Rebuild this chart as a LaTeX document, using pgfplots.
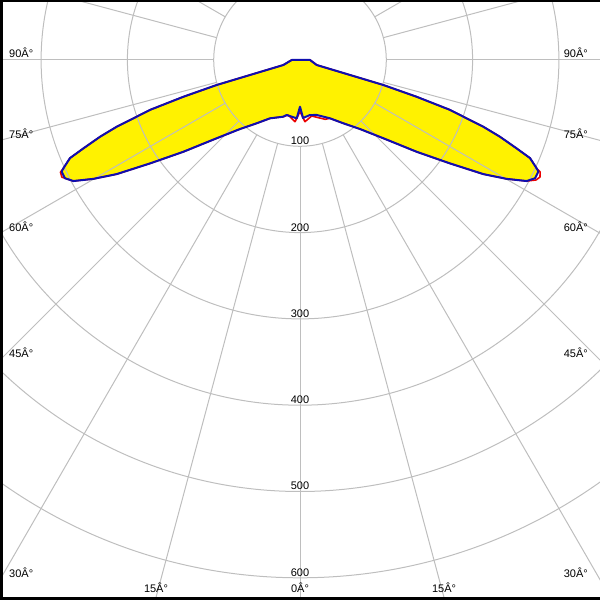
\documentclass[border=0pt]{standalone}
\usepackage{fontspec}
\setmainfont{Liberation Sans}
\usepackage{pgfplots}
\usepackage{pgfplotstable}
\pgfplotsset{compat=1.18}
\definecolor{gridc}{RGB}{190,190,190}
\definecolor{cblue}{RGB}{15,15,175}
\definecolor{cred}{RGB}{235,0,0}
\def\s{0.863}
\tikzset{lab/.style={font=\fontsize{11pt}{13pt}\selectfont, inner sep=0pt, text=black}}

% blue curve: gamma (deg, left negative), intensity (cd), in drawing order
\pgfplotstableread{
g r
0 54.1
3.0 67.3
10.3 64.8
16.9 66.6
27.2 76.0
34.4 88.9
41.0 106.0
46.8 132.5
51.8 172.0
55.4 211.0
58.1 250.3
60.1 276.4
61.9 297.8
63.3 304.9
64.9 305.0
65.4 301.6
66.9 289.8
67.8 271.1
69.0 248.2
70.0 226.0
70.7 204.6
71.6 183.2
72.5 141.7
73.3 100.8
73.3 60.5
73.3 20.2
90 11.6
-90 9.6
-73.3 20.2
-73.3 60.5
-73.3 100.8
-72.5 141.7
-71.6 183.2
-70.7 204.6
-70.0 226.0
-69.0 248.2
-67.8 271.1
-66.9 289.8
-65.4 301.6
-64.9 305.0
-63.3 304.9
-61.9 297.8
-60.1 276.4
-58.1 250.3
-55.4 211.0
-51.8 172.0
-46.8 132.5
-41.0 106.0
-34.4 88.9
-27.2 76.0
-16.4 68.5
-13.6 65.6
-3.2 67.7
}\blueC

\pgfplotstableread{
g r
0 59.9
4.6 71.7
11.8 66.3
22.9 74.6
27.2 76.0
34.4 88.9
41.0 106.0
46.8 132.5
51.8 172.0
55.4 211.0
58.1 250.3
60.1 276.4
61.9 297.8
63.05 306.8
64.0 309.4
65.0 307.0
65.4 301.6
66.9 289.8
67.8 271.1
69.0 248.2
70.0 226.0
70.7 204.6
71.6 183.2
72.5 141.7
73.3 100.8
73.3 60.5
73.3 20.2
90 11.6
-90 9.6
-73.3 20.2
-73.3 60.5
-73.3 100.8
-72.5 141.7
-71.6 183.2
-70.7 204.6
-70.0 226.0
-69.0 248.2
-67.8 271.1
-66.9 289.8
-65.4 301.6
-64.9 306.5
-63.8 307.5
-61.9 297.8
-60.1 276.4
-58.1 250.3
-55.4 211.0
-51.8 172.0
-46.8 132.5
-41.0 106.0
-34.4 88.9
-27.2 76.0
-16.4 68.5
-12.3 65.2
-4.6 71.7
}\redC

\begin{document}
\begin{tikzpicture}[x=1pt,y=1pt]
\path[use as bounding box] (0,0) rectangle (600,600);
\begin{axis}[at={(0,0)},anchor=south west,
  width=600pt,height=600pt,scale only axis,
  xmin=-300,xmax=300,ymin=-540,ymax=60,
  hide axis, clip=true]
\addplot[fill=yellow, draw=none] table[x expr={\s*\thisrow{r}*sin(\thisrow{g})}, y expr={-\s*\thisrow{r}*cos(\thisrow{g})}] {\blueC} -- cycle;
% grid circles
\pgfplotsinvokeforeach{1,2,3,4,5,6}{
  \draw[gridc, line width=1pt] (axis cs:0,0) circle[radius={86.3*#1}];
}
% radial lines
\pgfplotsinvokeforeach{0,15,30,45,60,75,90,105,120,135,150,165,180,195,210,225,240,255,270,285,300,315,330,345}{
  \draw[gridc, line width=1pt] (axis cs:{86.3*cos(#1)},{86.3*sin(#1)}) -- (axis cs:{900*cos(#1)},{900*sin(#1)});
}
\addplot[cred, line width=1.6pt, line join=round] table[x expr={\s*\thisrow{r}*sin(\thisrow{g})}, y expr={-\s*\thisrow{r}*cos(\thisrow{g})}] {\redC} -- cycle;
\addplot[cblue, line width=2pt, line join=round] table[x expr={\s*\thisrow{r}*sin(\thisrow{g})}, y expr={-\s*\thisrow{r}*cos(\thisrow{g})}] {\blueC} -- cycle;
% radial value labels
\node[lab, anchor=base] at (axis cs:0,{-86.3+1.5}) {100};
\node[lab, anchor=base] at (axis cs:0,{-172.6+1.5}) {200};
\node[lab, anchor=base] at (axis cs:0,{-258.9+1.5}) {300};
\node[lab, anchor=base] at (axis cs:0,{-345.2+1.5}) {400};
\node[lab, anchor=base] at (axis cs:0,{-431.5+1.5}) {500};
\node[lab, anchor=base] at (axis cs:0,{-517.8+1.5}) {600};
% angle labels
\node[lab, anchor=base west] at (axis cs:-291,2) {90Â°};
\node[lab, anchor=base west] at (axis cs:-291,-78.4) {75Â°};
\node[lab, anchor=base west] at (axis cs:-291,-171.2) {60Â°};
\node[lab, anchor=base west] at (axis cs:-291,-298) {45Â°};
\node[lab, anchor=base west] at (axis cs:-291,-517.6) {30Â°};
\node[lab, anchor=base east] at (axis cs:288,2) {90Â°};
\node[lab, anchor=base east] at (axis cs:288,-78.4) {75Â°};
\node[lab, anchor=base east] at (axis cs:288,-171.2) {60Â°};
\node[lab, anchor=base east] at (axis cs:288,-298) {45Â°};
\node[lab, anchor=base east] at (axis cs:288,-517.6) {30Â°};
\node[lab, anchor=base] at (axis cs:-144,-533) {15Â°};
\node[lab, anchor=base] at (axis cs:0,-533) {0Â°};
\node[lab, anchor=base] at (axis cs:144,-533) {15Â°};
\end{axis}
\fill[black] (0,597.5) rectangle (600,600);
\fill[black] (0,0) rectangle (2.5,600);
\fill[black] (0,0) rectangle (600,2.5);
\end{tikzpicture}
\end{document}
